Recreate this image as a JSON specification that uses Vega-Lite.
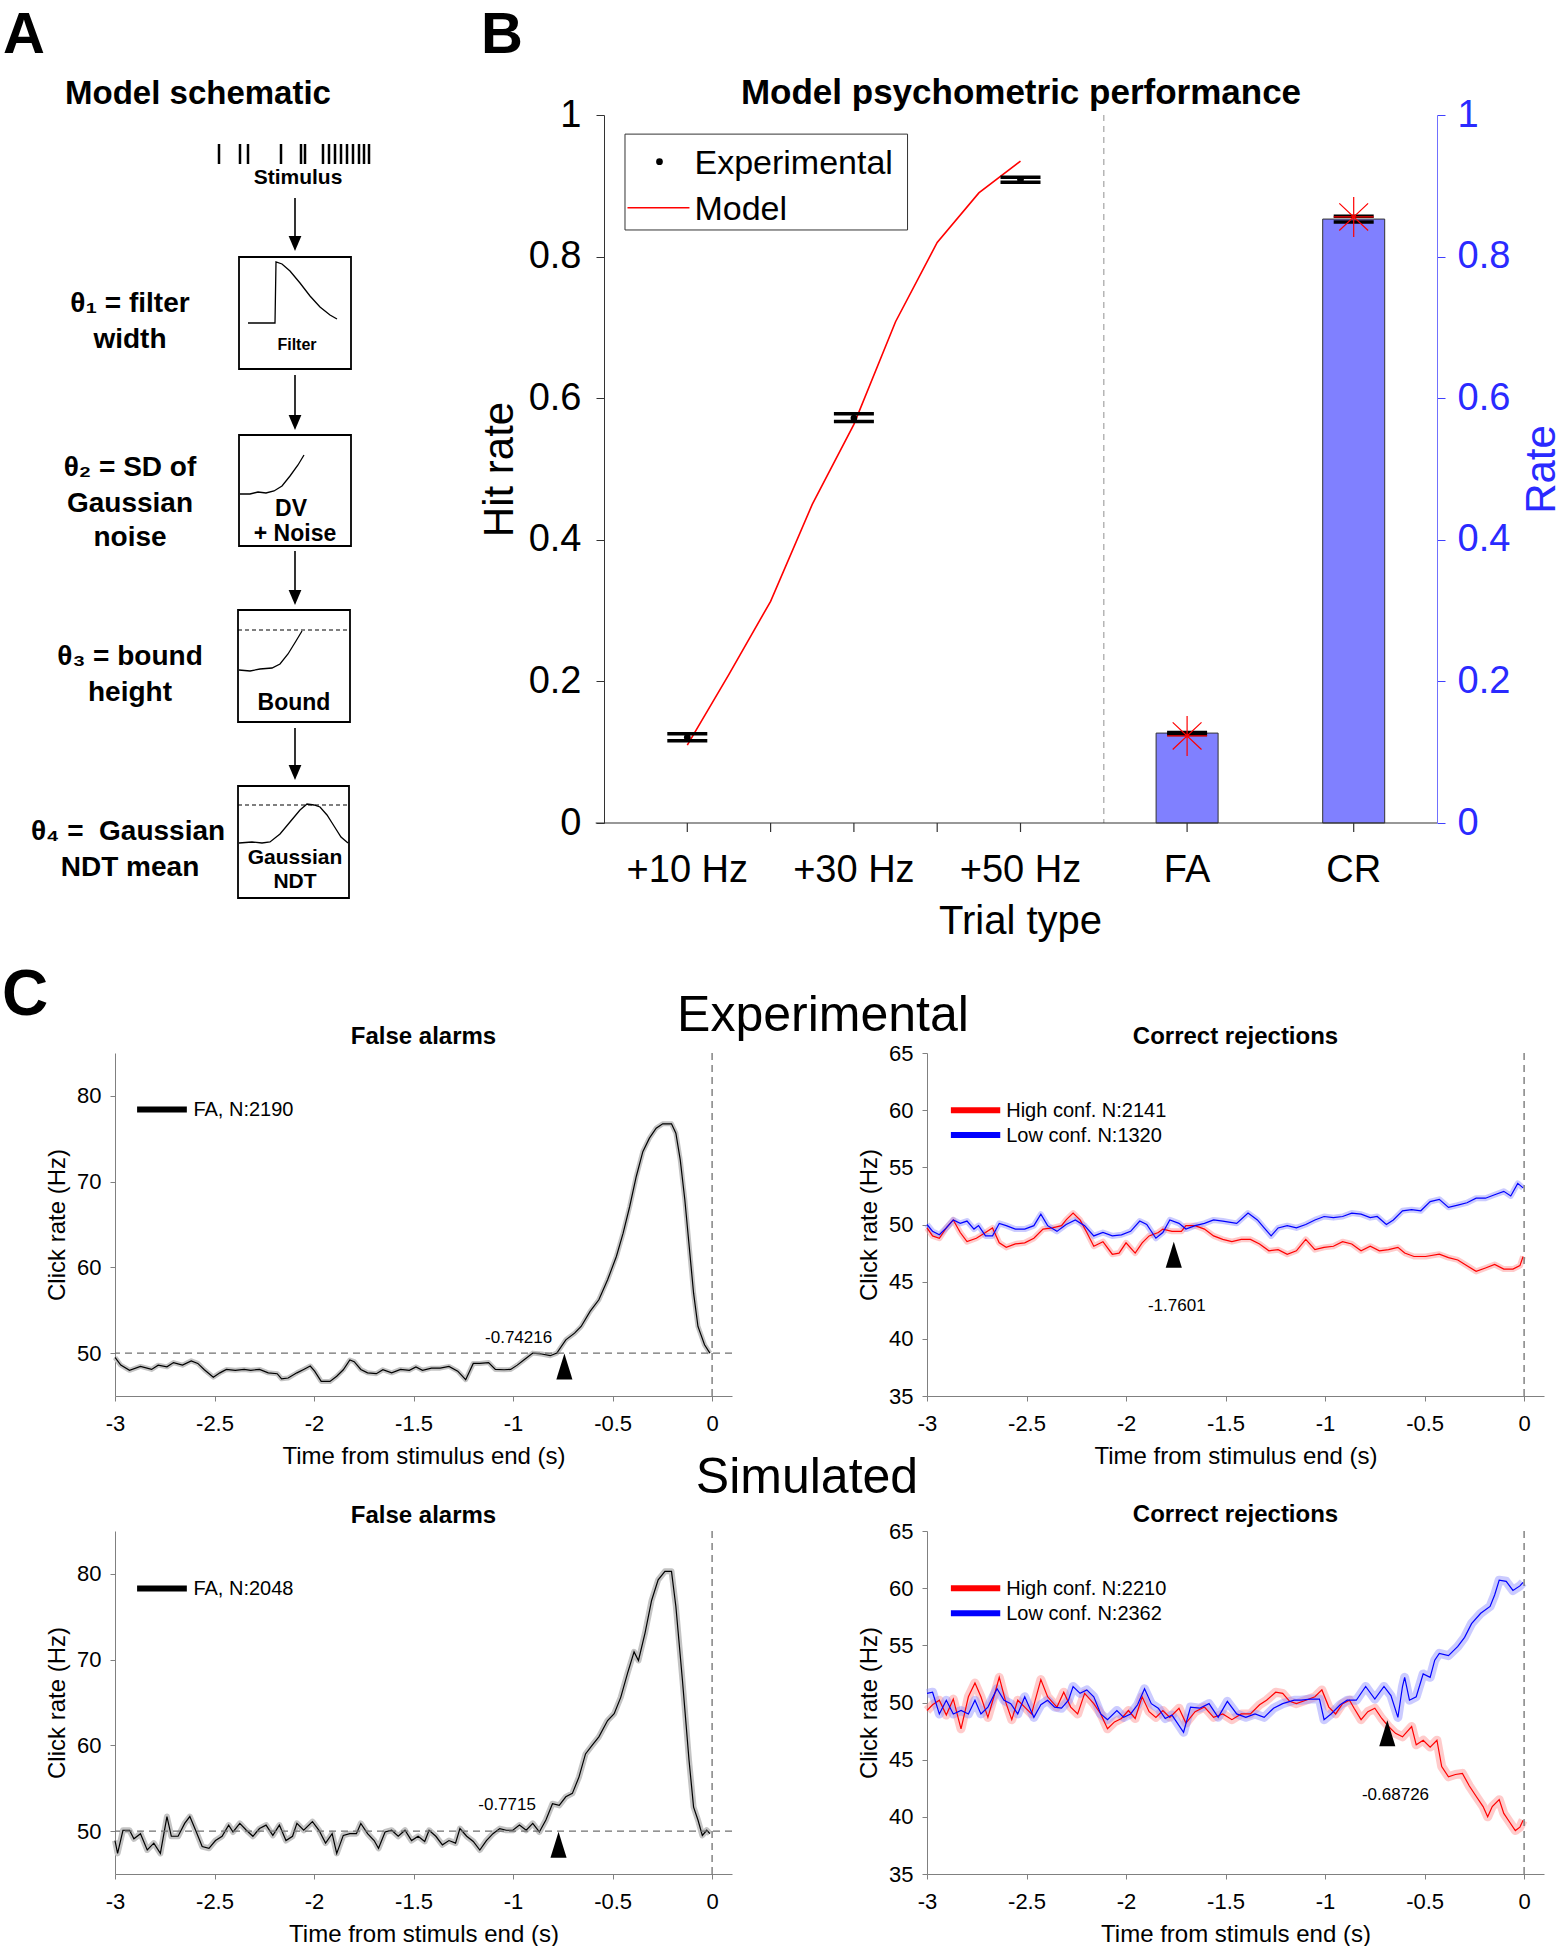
{
"$schema": "https://vega.github.io/schema/vega-lite/v6.json",
"padding": 0,
"background": "white",
"config": {
  "font": "Liberation Sans",
  "view": {"stroke": null},
  "axis": {"grid": false, "labelFont": "Liberation Sans", "titleFont": "Liberation Sans", "titleFontWeight": "normal", "labelColor": "#000", "titleColor": "#000", "labelFlush": false},
  "title": {"font": "Liberation Sans", "fontWeight": "bold", "color": "#000", "anchor": "middle"}
},
"datasets": {
  "a_text": [
    {"x":24,"y":35.5,"t":"A","k":"panel"},
    {"x":502,"y":35.5,"t":"B","k":"panel"},
    {"x":25,"y":996,"t":"C","k":"panelc"},
    {"x":198,"y":94,"t":"Model schematic","k":"title"},
    {"x":1021,"y":93,"t":"Model psychometric performance","k":"title2"},
    {"x":823,"y":1016,"t":"Experimental","k":"big"},
    {"x":807,"y":1478,"t":"Simulated","k":"big"},
    {"x":130,"y":304,"t":"θ₁ = filter","k":"param"},
    {"x":130,"y":340,"t":"width","k":"param"},
    {"x":130,"y":468,"t":"θ₂ = SD of","k":"param"},
    {"x":130,"y":504,"t":"Gaussian","k":"param"},
    {"x":130,"y":538,"t":"noise","k":"param"},
    {"x":130,"y":657,"t":"θ₃ = bound","k":"param"},
    {"x":130,"y":693,"t":"height","k":"param"},
    {"x":128,"y":832,"t":"θ₄ = \u00a0Gaussian","k":"param"},
    {"x":130,"y":868,"t":"NDT mean","k":"param"},
    {"x":298,"y":178,"t":"Stimulus","k":"stim"},
    {"x":297,"y":345,"t":"Filter","k":"filt"},
    {"x":291,"y":509,"t":"DV","k":"box"},
    {"x":295,"y":534,"t":"+ Noise","k":"box"},
    {"x":294,"y":703,"t":"Bound","k":"box"},
    {"x":295,"y":858,"t":"Gaussian","k":"stim"},
    {"x":295,"y":882,"t":"NDT","k":"stim"}
  ],
  "a_rules": [
    {"x":219,"x2":219,"y":144,"y2":164,"k":"stim"},
    {"x":240,"x2":240,"y":144,"y2":164,"k":"stim"},
    {"x":248,"x2":248,"y":144,"y2":164,"k":"stim"},
    {"x":281,"x2":281,"y":144,"y2":164,"k":"stim"},
    {"x":301,"x2":301,"y":144,"y2":164,"k":"stim"},
    {"x":305,"x2":305,"y":144,"y2":164,"k":"stim"},
    {"x":323,"x2":323,"y":144,"y2":164,"k":"stim"},
    {"x":329,"x2":329,"y":144,"y2":164,"k":"stim"},
    {"x":335,"x2":335,"y":144,"y2":164,"k":"stim"},
    {"x":341,"x2":341,"y":144,"y2":164,"k":"stim"},
    {"x":347,"x2":347,"y":144,"y2":164,"k":"stim"},
    {"x":353,"x2":353,"y":144,"y2":164,"k":"stim"},
    {"x":359,"x2":359,"y":144,"y2":164,"k":"stim"},
    {"x":364,"x2":364,"y":144,"y2":164,"k":"stim"},
    {"x":369,"x2":369,"y":144,"y2":164,"k":"stim"},
    {"x":295,"x2":295,"y":198,"y2":240,"k":"shaft"},
    {"x":295,"x2":295,"y":375,"y2":419,"k":"shaft"},
    {"x":295,"x2":295,"y":551,"y2":594,"k":"shaft"},
    {"x":295,"x2":295,"y":728,"y2":769,"k":"shaft"},
    {"x":238,"x2":350,"y":630,"y2":630,"k":"dash"},
    {"x":238,"x2":349,"y":805,"y2":805,"k":"dash"}
  ],
  "a_boxes": [
    {"x":239,"x2":351,"y":257,"y2":369},
    {"x":239,"x2":351,"y":435,"y2":546},
    {"x":238,"x2":350,"y":610,"y2":722},
    {"x":238,"x2":349,"y":786,"y2":898}
  ],
  "a_heads": [{"x":295,"y":243.5},{"x":295,"y":422.5},{"x":295,"y":597.5},{"x":295,"y":772.5}],
  "a_curves": [
    {"g":"filter","x":248,"y":323},{"g":"filter","x":275,"y":323},{"g":"filter","x":276,"y":262},{"g":"filter","x":282,"y":264},{"g":"filter","x":290,"y":271},{"g":"filter","x":300,"y":283},{"g":"filter","x":310,"y":296},{"g":"filter","x":320,"y":307},{"g":"filter","x":330,"y":315},{"g":"filter","x":337,"y":319},
    {"g":"dv","x":240,"y":494},{"g":"dv","x":250,"y":494},{"g":"dv","x":258,"y":492},{"g":"dv","x":266,"y":493},{"g":"dv","x":274,"y":491},{"g":"dv","x":282,"y":486},{"g":"dv","x":290,"y":476},{"g":"dv","x":298,"y":465},{"g":"dv","x":304,"y":455},
    {"g":"bound","x":239,"y":670},{"g":"bound","x":250,"y":671},{"g":"bound","x":260,"y":669},{"g":"bound","x":272,"y":668},{"g":"bound","x":280,"y":664},{"g":"bound","x":288,"y":654},{"g":"bound","x":296,"y":641},{"g":"bound","x":302,"y":631},
    {"g":"ndt","x":239,"y":843},{"g":"ndt","x":252,"y":842},{"g":"ndt","x":262,"y":843},{"g":"ndt","x":270,"y":842},{"g":"ndt","x":280,"y":834},{"g":"ndt","x":290,"y":822},{"g":"ndt","x":300,"y":810},{"g":"ndt","x":307,"y":804},{"g":"ndt","x":314,"y":805},{"g":"ndt","x":320,"y":807},{"g":"ndt","x":327,"y":815},{"g":"ndt","x":334,"y":826},{"g":"ndt","x":341,"y":837},{"g":"ndt","x":348,"y":843}
  ],
  "bmodel": [
    {"pos":1,"hit":0.11},{"pos":1.25,"hit":0.21},{"pos":1.5,"hit":0.313},{"pos":1.75,"hit":0.45},{"pos":2,"hit":0.563},{"pos":2.25,"hit":0.708},{"pos":2.5,"hit":0.82},{"pos":2.75,"hit":0.89},{"pos":3,"hit":0.935}
  ],
  "bexp": [
    {"pos":1,"val":0.121,"lo":0.116,"hi":0.126},
    {"pos":2,"val":0.572,"lo":0.567,"hi":0.578},
    {"pos":3,"val":0.909,"lo":0.905,"hi":0.912},
    {"pos":4,"val":0.127,"lo":0.125,"hi":0.128},
    {"pos":5,"val":0.853,"lo":0.849,"hi":0.857}
  ],
  "bbar": [
    {"pos":4,"rate":0.127,"model":0.123},
    {"pos":5,"rate":0.853,"model":0.856}
  ],
  "bticks": [
    {"pos":1,"lab":"+10 Hz"},{"pos":1.5,"lab":""},{"pos":2,"lab":"+30 Hz"},{"pos":2.5,"lab":""},{"pos":3,"lab":"+50 Hz"},{"pos":4,"lab":"FA"},{"pos":5,"lab":"CR"}
  ],
  "fa_exp": [{"t":-3,"r":49.5},{"t":-2.971,"r":48.6},{"t":-2.927,"r":48.0},{"t":-2.872,"r":48.45},{"t":-2.816,"r":48.1},{"t":-2.783,"r":48.6},{"t":-2.739,"r":48.4},{"t":-2.706,"r":48.9},{"t":-2.661,"r":48.6},{"t":-2.617,"r":49.1},{"t":-2.584,"r":48.8},{"t":-2.551,"r":48.06},{"t":-2.506,"r":47.2},{"t":-2.473,"r":47.7},{"t":-2.44,"r":48.1},{"t":-2.396,"r":48.0},{"t":-2.351,"r":48.1},{"t":-2.318,"r":48.0},{"t":-2.274,"r":48.1},{"t":-2.23,"r":47.7},{"t":-2.185,"r":47.6},{"t":-2.163,"r":47.0},{"t":-2.13,"r":47.1},{"t":-2.086,"r":47.7},{"t":-2.052,"r":48.1},{"t":-2.019,"r":48.5},{"t":-1.997,"r":47.9},{"t":-1.964,"r":46.7},{"t":-1.92,"r":46.7},{"t":-1.886,"r":47.3},{"t":-1.853,"r":48.06},{"t":-1.82,"r":49.2},{"t":-1.798,"r":49.0},{"t":-1.765,"r":48.1},{"t":-1.731,"r":47.7},{"t":-1.687,"r":47.6},{"t":-1.654,"r":48.06},{"t":-1.61,"r":47.7},{"t":-1.565,"r":48.1},{"t":-1.521,"r":48.0},{"t":-1.488,"r":48.4},{"t":-1.455,"r":48.0},{"t":-1.41,"r":48.25},{"t":-1.366,"r":48.25},{"t":-1.322,"r":48.45},{"t":-1.278,"r":47.9},{"t":-1.238,"r":46.9},{"t":-1.2,"r":48.8},{"t":-1.167,"r":48.8},{"t":-1.123,"r":48.9},{"t":-1.089,"r":48.1},{"t":-1.045,"r":48.06},{"t":-1.012,"r":48.1},{"t":-0.979,"r":48.6},{"t":-0.946,"r":49.2},{"t":-0.901,"r":50.0},{"t":-0.857,"r":49.9},{"t":-0.813,"r":49.7},{"t":-0.78,"r":50.0},{"t":-0.735,"r":51.55},{"t":-0.691,"r":52.33},{"t":-0.658,"r":53.11},{"t":-0.613,"r":54.86},{"t":-0.569,"r":56.22},{"t":-0.525,"r":58.55},{"t":-0.481,"r":61.27},{"t":-0.447,"r":63.99},{"t":-0.414,"r":67.1},{"t":-0.381,"r":70.6},{"t":-0.348,"r":73.5},{"t":-0.315,"r":75.07},{"t":-0.281,"r":76.23},{"t":-0.248,"r":76.74},{"t":-0.204,"r":76.74},{"t":-0.182,"r":75.65},{"t":-0.16,"r":72.54},{"t":-0.137,"r":67.88},{"t":-0.115,"r":62.44},{"t":-0.093,"r":56.99},{"t":-0.071,"r":53.11},{"t":-0.038,"r":50.97},{"t":-0.011,"r":50.0}],
  "cr_exp": [
    {"s":"H","t":-3,"r":49.7},{"s":"H","t":-2.972,"r":49.0},{"s":"H","t":-2.938,"r":48.8},{"s":"H","t":-2.903,"r":49.7},{"s":"H","t":-2.868,"r":50.4},{"s":"H","t":-2.833,"r":49.3},{"s":"H","t":-2.799,"r":48.5},{"s":"H","t":-2.752,"r":48.8},{"s":"H","t":-2.706,"r":49.3},{"s":"H","t":-2.671,"r":49.7},{"s":"H","t":-2.637,"r":48.4},{"s":"H","t":-2.602,"r":48.0},{"s":"H","t":-2.556,"r":48.3},{"s":"H","t":-2.509,"r":48.4},{"s":"H","t":-2.463,"r":48.8},{"s":"H","t":-2.417,"r":49.6},{"s":"H","t":-2.37,"r":49.7},{"s":"H","t":-2.324,"r":49.9},{"s":"H","t":-2.301,"r":50.4},{"s":"H","t":-2.266,"r":51.0},{"s":"H","t":-2.231,"r":50.4},{"s":"H","t":-2.197,"r":49.3},{"s":"H","t":-2.162,"r":48.1},{"s":"H","t":-2.116,"r":48.5},{"s":"H","t":-2.069,"r":47.4},{"s":"H","t":-2.035,"r":47.5},{"s":"H","t":-2.0,"r":48.4},{"s":"H","t":-1.954,"r":47.5},{"s":"H","t":-1.919,"r":48.4},{"s":"H","t":-1.884,"r":49.0},{"s":"H","t":-1.838,"r":49.3},{"s":"H","t":-1.815,"r":49.6},{"s":"H","t":-1.769,"r":49.4},{"s":"H","t":-1.722,"r":49.4},{"s":"H","t":-1.699,"r":49.9},{"s":"H","t":-1.653,"r":49.9},{"s":"H","t":-1.606,"r":49.6},{"s":"H","t":-1.56,"r":49.0},{"s":"H","t":-1.514,"r":48.7},{"s":"H","t":-1.468,"r":48.5},{"s":"H","t":-1.421,"r":48.7},{"s":"H","t":-1.375,"r":48.7},{"s":"H","t":-1.329,"r":48.3},{"s":"H","t":-1.282,"r":47.7},{"s":"H","t":-1.236,"r":47.8},{"s":"H","t":-1.19,"r":47.4},{"s":"H","t":-1.144,"r":47.7},{"s":"H","t":-1.097,"r":48.7},{"s":"H","t":-1.051,"r":47.8},{"s":"H","t":-1.005,"r":48.0},{"s":"H","t":-0.958,"r":48.1},{"s":"H","t":-0.912,"r":48.5},{"s":"H","t":-0.866,"r":48.3},{"s":"H","t":-0.819,"r":47.7},{"s":"H","t":-0.773,"r":48.1},{"s":"H","t":-0.727,"r":47.7},{"s":"H","t":-0.681,"r":47.8},{"s":"H","t":-0.634,"r":48.0},{"s":"H","t":-0.6,"r":47.5},{"s":"H","t":-0.553,"r":47.2},{"s":"H","t":-0.495,"r":47.2},{"s":"H","t":-0.426,"r":47.4},{"s":"H","t":-0.38,"r":47.1},{"s":"H","t":-0.333,"r":46.9},{"s":"H","t":-0.287,"r":46.4},{"s":"H","t":-0.241,"r":45.9},{"s":"H","t":-0.194,"r":46.2},{"s":"H","t":-0.148,"r":46.5},{"s":"H","t":-0.102,"r":46.1},{"s":"H","t":-0.056,"r":46.1},{"s":"H","t":-0.021,"r":46.4},{"s":"H","t":-0.005,"r":47.2},
    {"s":"L","t":-3,"r":50.0},{"s":"L","t":-2.972,"r":49.4},{"s":"L","t":-2.938,"r":49.1},{"s":"L","t":-2.903,"r":49.7},{"s":"L","t":-2.868,"r":50.4},{"s":"L","t":-2.833,"r":50.1},{"s":"L","t":-2.799,"r":50.3},{"s":"L","t":-2.764,"r":49.6},{"s":"L","t":-2.741,"r":49.9},{"s":"L","t":-2.706,"r":49.0},{"s":"L","t":-2.671,"r":49.0},{"s":"L","t":-2.637,"r":50.1},{"s":"L","t":-2.602,"r":49.9},{"s":"L","t":-2.556,"r":49.6},{"s":"L","t":-2.509,"r":49.6},{"s":"L","t":-2.463,"r":49.9},{"s":"L","t":-2.428,"r":50.9},{"s":"L","t":-2.394,"r":49.9},{"s":"L","t":-2.347,"r":49.4},{"s":"L","t":-2.301,"r":50.0},{"s":"L","t":-2.255,"r":50.4},{"s":"L","t":-2.208,"r":49.9},{"s":"L","t":-2.162,"r":49.0},{"s":"L","t":-2.116,"r":49.3},{"s":"L","t":-2.069,"r":49.0},{"s":"L","t":-2.023,"r":49.1},{"s":"L","t":-1.977,"r":49.4},{"s":"L","t":-1.931,"r":50.3},{"s":"L","t":-1.896,"r":50.0},{"s":"L","t":-1.85,"r":48.8},{"s":"L","t":-1.815,"r":49.3},{"s":"L","t":-1.78,"r":50.4},{"s":"L","t":-1.734,"r":50.1},{"s":"L","t":-1.699,"r":49.6},{"s":"L","t":-1.653,"r":49.9},{"s":"L","t":-1.606,"r":50.1},{"s":"L","t":-1.56,"r":50.4},{"s":"L","t":-1.514,"r":50.3},{"s":"L","t":-1.444,"r":50.1},{"s":"L","t":-1.387,"r":51.0},{"s":"L","t":-1.34,"r":50.4},{"s":"L","t":-1.306,"r":49.7},{"s":"L","t":-1.271,"r":49.0},{"s":"L","t":-1.236,"r":49.7},{"s":"L","t":-1.19,"r":49.9},{"s":"L","t":-1.144,"r":49.7},{"s":"L","t":-1.097,"r":50.0},{"s":"L","t":-1.051,"r":50.4},{"s":"L","t":-1.005,"r":50.7},{"s":"L","t":-0.958,"r":50.6},{"s":"L","t":-0.912,"r":50.7},{"s":"L","t":-0.866,"r":51.0},{"s":"L","t":-0.819,"r":50.9},{"s":"L","t":-0.773,"r":50.6},{"s":"L","t":-0.738,"r":50.7},{"s":"L","t":-0.692,"r":50.0},{"s":"L","t":-0.657,"r":50.4},{"s":"L","t":-0.611,"r":51.2},{"s":"L","t":-0.565,"r":51.3},{"s":"L","t":-0.519,"r":51.2},{"s":"L","t":-0.472,"r":52.0},{"s":"L","t":-0.426,"r":52.2},{"s":"L","t":-0.38,"r":51.5},{"s":"L","t":-0.333,"r":51.7},{"s":"L","t":-0.287,"r":51.9},{"s":"L","t":-0.241,"r":52.3},{"s":"L","t":-0.194,"r":52.3},{"s":"L","t":-0.148,"r":52.6},{"s":"L","t":-0.102,"r":52.9},{"s":"L","t":-0.067,"r":52.5},{"s":"L","t":-0.032,"r":53.6},{"s":"L","t":-0.005,"r":53.2}
  ],
  "fa_sim": [{"t":-3,"r":48.9},{"t":-2.987,"r":47.4},{"t":-2.96,"r":50.1},{"t":-2.927,"r":50.1},{"t":-2.905,"r":49.1},{"t":-2.872,"r":49.7},{"t":-2.838,"r":47.8},{"t":-2.805,"r":48.6},{"t":-2.772,"r":47.4},{"t":-2.739,"r":51.7},{"t":-2.717,"r":49.4},{"t":-2.683,"r":49.4},{"t":-2.65,"r":50.9},{"t":-2.624,"r":51.7},{"t":-2.595,"r":50.1},{"t":-2.562,"r":48.2},{"t":-2.528,"r":48.0},{"t":-2.495,"r":48.9},{"t":-2.462,"r":49.4},{"t":-2.429,"r":50.7},{"t":-2.407,"r":49.9},{"t":-2.373,"r":50.9},{"t":-2.34,"r":50.1},{"t":-2.307,"r":49.4},{"t":-2.274,"r":50.3},{"t":-2.241,"r":50.7},{"t":-2.207,"r":49.5},{"t":-2.174,"r":50.7},{"t":-2.141,"r":48.9},{"t":-2.108,"r":49.4},{"t":-2.086,"r":50.9},{"t":-2.052,"r":50.1},{"t":-2.008,"r":51.1},{"t":-1.975,"r":50.1},{"t":-1.942,"r":48.6},{"t":-1.909,"r":49.7},{"t":-1.886,"r":47.4},{"t":-1.853,"r":49.5},{"t":-1.82,"r":49.7},{"t":-1.787,"r":49.7},{"t":-1.765,"r":50.9},{"t":-1.731,"r":49.7},{"t":-1.698,"r":48.9},{"t":-1.676,"r":48.0},{"t":-1.643,"r":49.9},{"t":-1.61,"r":50.1},{"t":-1.577,"r":49.4},{"t":-1.543,"r":50.1},{"t":-1.51,"r":48.9},{"t":-1.477,"r":49.4},{"t":-1.444,"r":48.8},{"t":-1.422,"r":50.1},{"t":-1.388,"r":49.4},{"t":-1.355,"r":48.4},{"t":-1.322,"r":48.9},{"t":-1.289,"r":48.6},{"t":-1.267,"r":50.3},{"t":-1.233,"r":49.4},{"t":-1.2,"r":48.8},{"t":-1.167,"r":47.8},{"t":-1.134,"r":48.9},{"t":-1.101,"r":49.7},{"t":-1.067,"r":50.3},{"t":-1.034,"r":50.1},{"t":-1.001,"r":50.1},{"t":-0.968,"r":50.7},{"t":-0.934,"r":50.1},{"t":-0.901,"r":50.9},{"t":-0.868,"r":49.9},{"t":-0.835,"r":51.3},{"t":-0.802,"r":53.2},{"t":-0.768,"r":53.0},{"t":-0.735,"r":54.0},{"t":-0.702,"r":54.4},{"t":-0.669,"r":56.3},{"t":-0.636,"r":59.0},{"t":-0.603,"r":60.0},{"t":-0.569,"r":61.0},{"t":-0.525,"r":62.9},{"t":-0.492,"r":63.7},{"t":-0.459,"r":65.6},{"t":-0.425,"r":68.4},{"t":-0.392,"r":70.9},{"t":-0.37,"r":69.9},{"t":-0.337,"r":73.1},{"t":-0.304,"r":76.9},{"t":-0.271,"r":79.3},{"t":-0.237,"r":80.3},{"t":-0.204,"r":80.3},{"t":-0.182,"r":76.2},{"t":-0.149,"r":67.6},{"t":-0.116,"r":58.3},{"t":-0.093,"r":52.8},{"t":-0.071,"r":51.3},{"t":-0.049,"r":49.5},{"t":-0.027,"r":50.1},{"t":-0.011,"r":49.7}],
  "cr_sim": [
    {"s":"H","t":-3,"r":49.3},{"s":"H","t":-2.972,"r":49.8},{"s":"H","t":-2.938,"r":50.2},{"s":"H","t":-2.903,"r":48.9},{"s":"H","t":-2.868,"r":50.3},{"s":"H","t":-2.829,"r":47.7},{"s":"H","t":-2.792,"r":50.5},{"s":"H","t":-2.759,"r":51.7},{"s":"H","t":-2.729,"r":50.5},{"s":"H","t":-2.694,"r":48.7},{"s":"H","t":-2.664,"r":50.5},{"s":"H","t":-2.637,"r":52.2},{"s":"H","t":-2.602,"r":49.9},{"s":"H","t":-2.574,"r":48.5},{"s":"H","t":-2.544,"r":50.2},{"s":"H","t":-2.509,"r":49.6},{"s":"H","t":-2.475,"r":49.0},{"s":"H","t":-2.428,"r":52.0},{"s":"H","t":-2.394,"r":50.5},{"s":"H","t":-2.347,"r":49.6},{"s":"H","t":-2.313,"r":50.9},{"s":"H","t":-2.278,"r":49.6},{"s":"H","t":-2.243,"r":49.0},{"s":"H","t":-2.208,"r":50.8},{"s":"H","t":-2.162,"r":49.9},{"s":"H","t":-2.127,"r":49.0},{"s":"H","t":-2.093,"r":47.7},{"s":"H","t":-2.058,"r":48.3},{"s":"H","t":-2.023,"r":48.6},{"s":"H","t":-1.988,"r":49.3},{"s":"H","t":-1.954,"r":48.6},{"s":"H","t":-1.919,"r":50.5},{"s":"H","t":-1.884,"r":49.2},{"s":"H","t":-1.85,"r":48.7},{"s":"H","t":-1.815,"r":49.3},{"s":"H","t":-1.78,"r":48.7},{"s":"H","t":-1.734,"r":49.5},{"s":"H","t":-1.699,"r":48.2},{"s":"H","t":-1.653,"r":49.2},{"s":"H","t":-1.606,"r":49.6},{"s":"H","t":-1.56,"r":48.7},{"s":"H","t":-1.514,"r":49.0},{"s":"H","t":-1.468,"r":48.5},{"s":"H","t":-1.421,"r":49.0},{"s":"H","t":-1.375,"r":49.0},{"s":"H","t":-1.329,"r":49.8},{"s":"H","t":-1.294,"r":50.2},{"s":"H","t":-1.248,"r":50.9},{"s":"H","t":-1.213,"r":50.8},{"s":"H","t":-1.178,"r":50.1},{"s":"H","t":-1.144,"r":49.9},{"s":"H","t":-1.097,"r":50.2},{"s":"H","t":-1.051,"r":50.5},{"s":"H","t":-1.016,"r":51.1},{"s":"H","t":-0.981,"r":49.6},{"s":"H","t":-0.947,"r":49.0},{"s":"H","t":-0.912,"r":49.9},{"s":"H","t":-0.877,"r":50.2},{"s":"H","t":-0.854,"r":49.5},{"s":"H","t":-0.819,"r":48.5},{"s":"H","t":-0.785,"r":49.2},{"s":"H","t":-0.75,"r":49.5},{"s":"H","t":-0.715,"r":48.6},{"s":"H","t":-0.681,"r":47.9},{"s":"H","t":-0.646,"r":47.3},{"s":"H","t":-0.611,"r":47.0},{"s":"H","t":-0.565,"r":47.9},{"s":"H","t":-0.542,"r":46.3},{"s":"H","t":-0.507,"r":46.7},{"s":"H","t":-0.472,"r":46.1},{"s":"H","t":-0.438,"r":46.7},{"s":"H","t":-0.414,"r":44.4},{"s":"H","t":-0.38,"r":43.5},{"s":"H","t":-0.345,"r":43.7},{"s":"H","t":-0.31,"r":43.8},{"s":"H","t":-0.275,"r":42.7},{"s":"H","t":-0.241,"r":41.8},{"s":"H","t":-0.206,"r":40.9},{"s":"H","t":-0.183,"r":40.0},{"s":"H","t":-0.16,"r":40.9},{"s":"H","t":-0.125,"r":41.5},{"s":"H","t":-0.102,"r":40.3},{"s":"H","t":-0.079,"r":39.7},{"s":"H","t":-0.044,"r":38.8},{"s":"H","t":-0.021,"r":39.1},{"s":"H","t":-0.005,"r":39.7},
    {"s":"L","t":-3,"r":50.8},{"s":"L","t":-2.972,"r":50.9},{"s":"L","t":-2.938,"r":49.0},{"s":"L","t":-2.903,"r":50.2},{"s":"L","t":-2.868,"r":49.0},{"s":"L","t":-2.829,"r":49.3},{"s":"L","t":-2.792,"r":49.0},{"s":"L","t":-2.759,"r":50.2},{"s":"L","t":-2.729,"r":49.0},{"s":"L","t":-2.694,"r":49.6},{"s":"L","t":-2.648,"r":51.2},{"s":"L","t":-2.613,"r":50.2},{"s":"L","t":-2.579,"r":49.9},{"s":"L","t":-2.544,"r":49.0},{"s":"L","t":-2.509,"r":50.5},{"s":"L","t":-2.463,"r":48.7},{"s":"L","t":-2.428,"r":49.8},{"s":"L","t":-2.394,"r":50.2},{"s":"L","t":-2.359,"r":49.6},{"s":"L","t":-2.324,"r":49.5},{"s":"L","t":-2.289,"r":50.2},{"s":"L","t":-2.266,"r":51.4},{"s":"L","t":-2.231,"r":50.8},{"s":"L","t":-2.197,"r":51.1},{"s":"L","t":-2.162,"r":50.5},{"s":"L","t":-2.127,"r":49.0},{"s":"L","t":-2.093,"r":48.5},{"s":"L","t":-2.046,"r":49.3},{"s":"L","t":-2.012,"r":48.7},{"s":"L","t":-1.977,"r":49.0},{"s":"L","t":-1.942,"r":49.8},{"s":"L","t":-1.907,"r":51.2},{"s":"L","t":-1.873,"r":49.9},{"s":"L","t":-1.838,"r":49.5},{"s":"L","t":-1.803,"r":48.6},{"s":"L","t":-1.769,"r":48.9},{"s":"L","t":-1.711,"r":47.4},{"s":"L","t":-1.676,"r":49.6},{"s":"L","t":-1.63,"r":49.5},{"s":"L","t":-1.583,"r":49.9},{"s":"L","t":-1.537,"r":48.7},{"s":"L","t":-1.491,"r":50.1},{"s":"L","t":-1.444,"r":49.0},{"s":"L","t":-1.398,"r":48.7},{"s":"L","t":-1.352,"r":49.0},{"s":"L","t":-1.306,"r":48.7},{"s":"L","t":-1.259,"r":49.5},{"s":"L","t":-1.213,"r":49.9},{"s":"L","t":-1.155,"r":50.2},{"s":"L","t":-1.12,"r":50.2},{"s":"L","t":-1.074,"r":50.3},{"s":"L","t":-1.028,"r":50.3},{"s":"L","t":-1.005,"r":48.5},{"s":"L","t":-0.97,"r":49.0},{"s":"L","t":-0.924,"r":49.8},{"s":"L","t":-0.889,"r":50.2},{"s":"L","t":-0.843,"r":50.2},{"s":"L","t":-0.796,"r":51.4},{"s":"L","t":-0.75,"r":50.3},{"s":"L","t":-0.704,"r":51.4},{"s":"L","t":-0.669,"r":50.6},{"s":"L","t":-0.634,"r":48.7},{"s":"L","t":-0.611,"r":51.4},{"s":"L","t":-0.6,"r":52.2},{"s":"L","t":-0.576,"r":50.2},{"s":"L","t":-0.542,"r":50.5},{"s":"L","t":-0.507,"r":52.5},{"s":"L","t":-0.472,"r":52.2},{"s":"L","t":-0.449,"r":53.7},{"s":"L","t":-0.426,"r":54.3},{"s":"L","t":-0.38,"r":54.1},{"s":"L","t":-0.333,"r":54.9},{"s":"L","t":-0.299,"r":55.7},{"s":"L","t":-0.264,"r":56.9},{"s":"L","t":-0.218,"r":57.8},{"s":"L","t":-0.171,"r":58.4},{"s":"L","t":-0.148,"r":59.4},{"s":"L","t":-0.125,"r":60.7},{"s":"L","t":-0.09,"r":60.6},{"s":"L","t":-0.056,"r":59.8},{"s":"L","t":-0.021,"r":60.2},{"s":"L","t":-0.005,"r":60.5}
  ]
},
"columns": 2,
"bounds": "flush",
"align": "each",
"spacing": {"row": 135, "column": 195},
"concat": [
  {
    "width": 294, "height": 803,
    "encoding": {
      "x": {"field": "x", "type": "quantitative", "scale": {"domain": [115, 409], "nice": false, "zero": false}, "axis": null},
      "y": {"field": "y", "type": "quantitative", "scale": {"domain": [115, 918], "nice": false, "zero": false, "reverse": true}, "axis": null}
    },
    "layer": [
      {"data": {"values": [{"x": 0, "y": 0, "x2": 1, "y2": 1}]}, "mark": {"type": "rect", "fillOpacity": 0, "fill": "white"}, "encoding": {"x2": {"field": "x2"}, "y2": {"field": "y2"}}},
      {"data": {"name": "a_boxes"}, "mark": {"type": "rect", "fill": "white", "stroke": "#000", "strokeWidth": 1.8}, "encoding": {"x2": {"field": "x2"}, "y2": {"field": "y2"}}},
      {"data": {"name": "a_rules"}, "transform": [{"filter": "datum.k == 'stim'"}], "mark": {"type": "rule", "color": "#000", "strokeWidth": 2.5}, "encoding": {"x2": {"field": "x2"}, "y2": {"field": "y2"}}},
      {"data": {"name": "a_rules"}, "transform": [{"filter": "datum.k == 'shaft'"}], "mark": {"type": "rule", "color": "#000", "strokeWidth": 1.6}, "encoding": {"x2": {"field": "x2"}, "y2": {"field": "y2"}}},
      {"data": {"name": "a_rules"}, "transform": [{"filter": "datum.k == 'dash'"}], "mark": {"type": "rule", "color": "#000", "strokeWidth": 1.2, "strokeDash": [4, 3]}, "encoding": {"x2": {"field": "x2"}, "y2": {"field": "y2"}}},
      {"data": {"name": "a_heads"}, "mark": {"type": "point", "shape": "M-0.85,-1L0.85,-1L0,1Z", "filled": true, "color": "#000", "size": 225, "opacity": 1}},
      {"data": {"name": "a_curves"}, "mark": {"type": "line", "color": "#000", "strokeWidth": 1.3}, "encoding": {"detail": {"field": "g"}, "order": {"value": null}}},
      {"data": {"name": "a_text"}, "transform": [{"filter": "datum.k == 'panel'"}], "mark": {"type": "text", "fontSize": 58, "fontWeight": "bold", "align": "center", "baseline": "middle"}, "encoding": {"text": {"field": "t"}}},
      {"data": {"name": "a_text"}, "transform": [{"filter": "datum.k == 'panelc'"}], "mark": {"type": "text", "fontSize": 64, "fontWeight": "bold", "align": "center", "baseline": "middle"}, "encoding": {"text": {"field": "t"}}},
      {"data": {"name": "a_text"}, "transform": [{"filter": "datum.k == 'title'"}], "mark": {"type": "text", "fontSize": 33, "fontWeight": "bold", "align": "center", "baseline": "middle"}, "encoding": {"text": {"field": "t"}}},
      {"data": {"name": "a_text"}, "transform": [{"filter": "datum.k == 'title2'"}], "mark": {"type": "text", "fontSize": 35, "fontWeight": "bold", "align": "center", "baseline": "middle"}, "encoding": {"text": {"field": "t"}}},
      {"data": {"name": "a_text"}, "transform": [{"filter": "datum.k == 'big'"}], "mark": {"type": "text", "fontSize": 50, "align": "center", "baseline": "middle"}, "encoding": {"text": {"field": "t"}}},
      {"data": {"name": "a_text"}, "transform": [{"filter": "datum.k == 'param'"}], "mark": {"type": "text", "fontSize": 28, "fontWeight": "bold", "align": "center", "baseline": "middle"}, "encoding": {"text": {"field": "t"}}},
      {"data": {"name": "a_text"}, "transform": [{"filter": "datum.k == 'stim'"}], "mark": {"type": "text", "fontSize": 21, "fontWeight": "bold", "align": "center", "baseline": "middle"}, "encoding": {"text": {"field": "t"}}},
      {"data": {"name": "a_text"}, "transform": [{"filter": "datum.k == 'box'"}], "mark": {"type": "text", "fontSize": 23, "fontWeight": "bold", "align": "center", "baseline": "middle"}, "encoding": {"text": {"field": "t"}}},
      {"data": {"name": "a_text"}, "transform": [{"filter": "datum.k == 'filt'"}], "mark": {"type": "text", "fontSize": 16, "fontWeight": "bold", "align": "center", "baseline": "middle"}, "encoding": {"text": {"field": "t"}}}
    ]
  },
  {
    "width": 510, "height": 708,
    "resolve": {"scale": {"y": "independent"}},
    "layer": [
      {"data": {"name": "bmodel"}, "mark": {"type": "line", "color": "#ff0000", "strokeWidth": 1.6},
       "encoding": {
         "x": {"field": "pos", "type": "quantitative", "scale": {"domain": [2.438776, 5.5], "nice": false, "zero": false, "padding": 0}, "axis": null},
         "y": {"field": "hit", "type": "quantitative", "scale": {"domain": [0, 1], "nice": false},
               "axis": {"title": "Hit rate", "offset": 323, "values": [0, 0.2, 0.4, 0.6, 0.8, 1], "labelExpr": "''+datum.value", "labelFontSize": 38, "titleFontSize": 42, "tickSize": 8, "labelPadding": 15, "titlePadding": 7, "domainColor": "#333", "tickColor": "#333"}}
       }},
      {"data": {"values": [{}]}, "mark": {"type": "rule", "color": "#aaaaaa", "strokeDash": [6, 5], "strokeWidth": 1.3},
       "encoding": {"x": {"datum": 3.5, "type": "quantitative", "scale": {"domain": [2.438776, 5.5], "nice": false, "zero": false, "padding": 0}}}},
      {"data": {"name": "bbar"}, "mark": {"type": "bar", "orient": "vertical", "width": 62, "color": "#8080ff", "stroke": "#333", "strokeWidth": 1},
       "encoding": {
         "x": {"field": "pos", "type": "quantitative", "scale": {"domain": [2.438776, 5.5], "nice": false, "zero": false, "padding": 0}},
         "y": {"field": "rate", "type": "quantitative", "scale": {"domain": [0, 1], "nice": false},
               "axis": {"orient": "right", "title": "Rate", "values": [0, 0.2, 0.4, 0.6, 0.8, 1], "labelExpr": "''+datum.value", "labelFontSize": 38, "titleFontSize": 42, "tickSize": 8, "labelPadding": 12, "titlePadding": 12, "titleAngle": 270, "titleBaseline": "top", "domainColor": "#7070ff", "tickColor": "#4040ff", "labelColor": "#2a2aff", "titleColor": "#2a2aff"}}
       }},
      {"data": {"values": [{}]}, "mark": {"type": "rule", "color": "#333", "strokeWidth": 1.2},
       "encoding": {"x": {"datum": 0.45, "type": "quantitative", "scale": {"domain": [2.438776, 5.5], "nice": false, "zero": false, "padding": 0}}, "x2": {"datum": 5.5},
                    "y": {"datum": 0, "type": "quantitative", "scale": {"domain": [0, 1], "nice": false}, "axis": null}}},
      {"data": {"name": "bticks"}, "mark": {"type": "rule", "color": "#333", "strokeWidth": 1.2},
       "encoding": {"x": {"field": "pos", "type": "quantitative", "scale": {"domain": [2.438776, 5.5], "nice": false, "zero": false, "padding": 0}},
                    "y": {"datum": 0, "type": "quantitative", "scale": {"domain": [0, 1], "nice": false}, "axis": null}, "y2": {"datum": -0.0127}}},
      {"data": {"name": "bticks"}, "transform": [{"filter": "datum.lab != ''"}], "mark": {"type": "text", "fontSize": 38, "align": "center", "baseline": "middle"},
       "encoding": {"x": {"field": "pos", "type": "quantitative", "scale": {"domain": [2.438776, 5.5], "nice": false, "zero": false, "padding": 0}},
                    "y": {"datum": -0.068, "type": "quantitative", "scale": {"domain": [0, 1], "nice": false}, "axis": null}, "text": {"field": "lab"}}},
      {"data": {"values": [{}]}, "mark": {"type": "text", "fontSize": 40, "align": "center", "baseline": "middle"},
       "encoding": {"x": {"datum": 3, "type": "quantitative", "scale": {"domain": [2.438776, 5.5], "nice": false, "zero": false, "padding": 0}},
                    "y": {"datum": -0.14, "type": "quantitative", "scale": {"domain": [0, 1], "nice": false}, "axis": null}, "text": {"value": "Trial type"}}},
      {"data": {"name": "bexp"}, "mark": {"type": "tick", "orient": "horizontal", "size": 40, "thickness": 3.5, "color": "#000", "opacity": 1},
       "encoding": {"x": {"field": "pos", "type": "quantitative", "scale": {"domain": [2.438776, 5.5], "nice": false, "zero": false, "padding": 0}},
                    "y": {"field": "lo", "type": "quantitative", "scale": {"domain": [0, 1], "nice": false}, "axis": null}}},
      {"data": {"name": "bexp"}, "mark": {"type": "tick", "orient": "horizontal", "size": 40, "thickness": 3.5, "color": "#000", "opacity": 1},
       "encoding": {"x": {"field": "pos", "type": "quantitative", "scale": {"domain": [2.438776, 5.5], "nice": false, "zero": false, "padding": 0}},
                    "y": {"field": "hi", "type": "quantitative", "scale": {"domain": [0, 1], "nice": false}, "axis": null}}},
      {"data": {"name": "bexp"}, "transform": [{"filter": "datum.pos <= 3"}], "mark": {"type": "point", "filled": true, "color": "#000", "size": 45, "opacity": 1},
       "encoding": {"x": {"field": "pos", "type": "quantitative", "scale": {"domain": [2.438776, 5.5], "nice": false, "zero": false, "padding": 0}},
                    "y": {"field": "val", "type": "quantitative", "scale": {"domain": [0, 1], "nice": false}, "axis": null}}},
      {"data": {"name": "bbar"}, "mark": {"type": "point", "shape": "M0,-1L0,1M-0.72,-0.68L0.72,0.68M-0.72,0.68L0.72,-0.68M-1,0L1,0", "filled": false, "color": "#ff0000", "strokeWidth": 1.2, "size": 1600, "opacity": 1},
       "encoding": {"x": {"field": "pos", "type": "quantitative", "scale": {"domain": [2.438776, 5.5], "nice": false, "zero": false, "padding": 0}},
                    "y": {"field": "model", "type": "quantitative", "scale": {"domain": [0, 1], "nice": false}, "axis": null}}},
      {"data": {"values": [{}]}, "mark": {"type": "rect", "fill": "white", "stroke": "#333", "strokeWidth": 1},
       "encoding": {"x": {"datum": 0.626, "type": "quantitative", "scale": {"domain": [2.438776, 5.5], "nice": false, "zero": false, "padding": 0}}, "x2": {"datum": 2.322},
                    "y": {"datum": 0.973, "type": "quantitative", "scale": {"domain": [0, 1], "nice": false}, "axis": null}, "y2": {"datum": 0.8376}}},
      {"data": {"values": [{}]}, "mark": {"type": "point", "filled": true, "color": "#000", "size": 45, "opacity": 1},
       "encoding": {"x": {"datum": 0.833, "type": "quantitative", "scale": {"domain": [2.438776, 5.5], "nice": false, "zero": false, "padding": 0}},
                    "y": {"datum": 0.934, "type": "quantitative", "scale": {"domain": [0, 1], "nice": false}, "axis": null}}},
      {"data": {"values": [{}]}, "mark": {"type": "rule", "color": "#ff0000", "strokeWidth": 1.6},
       "encoding": {"x": {"datum": 0.641, "type": "quantitative", "scale": {"domain": [2.438776, 5.5], "nice": false, "zero": false, "padding": 0}}, "x2": {"datum": 1.013},
                    "y": {"datum": 0.869, "type": "quantitative", "scale": {"domain": [0, 1], "nice": false}, "axis": null}}},
      {"data": {"values": [{}]}, "mark": {"type": "text", "align": "left", "baseline": "middle", "fontSize": 34},
       "encoding": {"x": {"datum": 1.043, "type": "quantitative", "scale": {"domain": [2.438776, 5.5], "nice": false, "zero": false, "padding": 0}},
                    "y": {"datum": 0.931, "type": "quantitative", "scale": {"domain": [0, 1], "nice": false}, "axis": null},
                    "text": {"value": "Experimental"}}},
      {"data": {"values": [{}]}, "mark": {"type": "text", "align": "left", "baseline": "middle", "fontSize": 34},
       "encoding": {"x": {"datum": 1.043, "type": "quantitative", "scale": {"domain": [2.438776, 5.5], "nice": false, "zero": false, "padding": 0}},
                    "y": {"datum": 0.866, "type": "quantitative", "scale": {"domain": [0, 1], "nice": false}, "axis": null},
                    "text": {"value": "Model"}}}
    ]
  },
  {
    "width": 617, "height": 343,
    "title": {"text": "False alarms", "fontSize": 24, "offset": 3},
    "layer": [
      {"data": {"name": "fa_exp"}, "mark": {"type": "line", "color": "#c4c4c4", "strokeWidth": 5, "strokeJoin": "round"},
       "encoding": {"x": {"field": "t", "type": "quantitative", "scale": {"domain": [-3, 0.1], "nice": false, "zero": false},
                          "axis": {"title": "Time from stimulus end (s)", "values": [-3, -2.5, -2, -1.5, -1, -0.5, 0], "labelExpr": "''+datum.value", "labelFontSize": 22, "titleFontSize": 24, "tickSize": 5, "labelPadding": 12, "titlePadding": 10, "domainColor": "#808080", "tickColor": "#808080"}},
                    "y": {"field": "r", "type": "quantitative", "scale": {"domain": [45, 85], "nice": false, "zero": false},
                          "axis": {"title": "Click rate (Hz)", "values": [50, 60, 70, 80], "labelExpr": "''+datum.value", "labelFontSize": 22, "titleFontSize": 24, "tickSize": 5, "labelPadding": 9, "titlePadding": 7, "domainColor": "#808080", "tickColor": "#808080"}}}},
      {"data": {"name": "fa_exp"}, "mark": {"type": "line", "color": "#000", "strokeWidth": 1.2},
       "encoding": {"x": {"field": "t", "type": "quantitative"}, "y": {"field": "r", "type": "quantitative"}}},
      {"data": {"values": [{}]}, "mark": {"type": "rule", "color": "#707070", "strokeDash": [7, 5], "strokeWidth": 1.3}, "encoding": {"y": {"datum": 50}}},
      {"data": {"values": [{}]}, "mark": {"type": "rule", "color": "#707070", "strokeDash": [7, 5], "strokeWidth": 1.3}, "encoding": {"x": {"datum": 0}}},
      {"data": {"values": [{}]}, "mark": {"type": "rule", "color": "#000", "strokeWidth": 6}, "encoding": {"x": {"datum": -2.889}, "x2": {"datum": -2.639}, "y": {"datum": 78.4}}},
      {"data": {"values": [{}]}, "mark": {"type": "text", "align": "left", "baseline": "middle", "fontSize": 20}, "encoding": {"x": {"datum": -2.606}, "y": {"datum": 78.3}, "text": {"value": "FA, N:2190"}}},
      {"data": {"values": [{}]}, "mark": {"type": "point", "shape": "M0,-1L0.62,1L-0.62,1Z", "filled": true, "color": "#000", "size": 676, "opacity": 1}, "encoding": {"x": {"datum": -0.74216}, "y": {"datum": 48.45}}},
      {"data": {"values": [{}]}, "mark": {"type": "text", "align": "center", "baseline": "middle", "fontSize": 17}, "encoding": {"x": {"datum": -0.972}, "y": {"datum": 51.75}, "text": {"value": "-0.74216"}}}
    ]
  },
  {
    "width": 617, "height": 343,
    "title": {"text": "Correct rejections", "fontSize": 24, "offset": -7},
    "layer": [
      {"data": {"name": "cr_exp"}, "transform": [{"filter": "datum.s == 'H'"}], "mark": {"type": "line", "color": "#ff8c8c", "opacity": 0.45, "strokeWidth": 6, "strokeJoin": "round"},
       "encoding": {"x": {"field": "t", "type": "quantitative", "scale": {"domain": [-3, 0.1], "nice": false, "zero": false},
                          "axis": {"title": "Time from stimulus end (s)", "values": [-3, -2.5, -2, -1.5, -1, -0.5, 0], "labelExpr": "''+datum.value", "labelFontSize": 22, "titleFontSize": 24, "tickSize": 5, "labelPadding": 12, "titlePadding": 10, "domainColor": "#808080", "tickColor": "#808080"}},
                    "y": {"field": "r", "type": "quantitative", "scale": {"domain": [35, 65], "nice": false, "zero": false},
                          "axis": {"title": "Click rate (Hz)", "values": [35, 40, 45, 50, 55, 60, 65], "labelExpr": "''+datum.value", "labelFontSize": 22, "titleFontSize": 24, "tickSize": 5, "labelPadding": 9, "titlePadding": 7, "domainColor": "#808080", "tickColor": "#808080"}}}},
      {"data": {"name": "cr_exp"}, "transform": [{"filter": "datum.s == 'L'"}], "mark": {"type": "line", "color": "#8c8cff", "opacity": 0.45, "strokeWidth": 6, "strokeJoin": "round"},
       "encoding": {"x": {"field": "t", "type": "quantitative"}, "y": {"field": "r", "type": "quantitative"}}},
      {"data": {"name": "cr_exp"}, "transform": [{"filter": "datum.s == 'H'"}], "mark": {"type": "line", "color": "#ff0000", "strokeWidth": 1.2},
       "encoding": {"x": {"field": "t", "type": "quantitative"}, "y": {"field": "r", "type": "quantitative"}}},
      {"data": {"name": "cr_exp"}, "transform": [{"filter": "datum.s == 'L'"}], "mark": {"type": "line", "color": "#0000ff", "strokeWidth": 1.2},
       "encoding": {"x": {"field": "t", "type": "quantitative"}, "y": {"field": "r", "type": "quantitative"}}},
      {"data": {"values": [{}]}, "mark": {"type": "rule", "color": "#707070", "strokeDash": [7, 5], "strokeWidth": 1.3}, "encoding": {"x": {"datum": 0}}},
      {"data": {"values": [{}]}, "mark": {"type": "rule", "color": "#ff0000", "strokeWidth": 6}, "encoding": {"x": {"datum": -2.88}, "x2": {"datum": -2.632}, "y": {"datum": 60.0}}},
      {"data": {"values": [{}]}, "mark": {"type": "rule", "color": "#0000ff", "strokeWidth": 6}, "encoding": {"x": {"datum": -2.88}, "x2": {"datum": -2.632}, "y": {"datum": 57.82}}},
      {"data": {"values": [{}]}, "mark": {"type": "text", "align": "left", "baseline": "middle", "fontSize": 20}, "encoding": {"x": {"datum": -2.602}, "y": {"datum": 59.9}, "text": {"value": "High conf. N:2141"}}},
      {"data": {"values": [{}]}, "mark": {"type": "text", "align": "left", "baseline": "middle", "fontSize": 20}, "encoding": {"x": {"datum": -2.602}, "y": {"datum": 57.72}, "text": {"value": "Low conf. N:1320"}}},
      {"data": {"values": [{}]}, "mark": {"type": "point", "shape": "M0,-1L0.62,1L-0.62,1Z", "filled": true, "color": "#000", "size": 676, "opacity": 1}, "encoding": {"x": {"datum": -1.7601}, "y": {"datum": 47.35}}},
      {"data": {"values": [{}]}, "mark": {"type": "text", "align": "center", "baseline": "middle", "fontSize": 17}, "encoding": {"x": {"datum": -1.745}, "y": {"datum": 42.9}, "text": {"value": "-1.7601"}}}
    ]
  },
  {
    "width": 617, "height": 343,
    "title": {"text": "False alarms", "fontSize": 24, "offset": 2},
    "layer": [
      {"data": {"name": "fa_sim"}, "mark": {"type": "line", "color": "#c4c4c4", "strokeWidth": 6, "strokeJoin": "round"},
       "encoding": {"x": {"field": "t", "type": "quantitative", "scale": {"domain": [-3, 0.1], "nice": false, "zero": false},
                          "axis": {"title": "Time from stimuls end (s)", "values": [-3, -2.5, -2, -1.5, -1, -0.5, 0], "labelExpr": "''+datum.value", "labelFontSize": 22, "titleFontSize": 24, "tickSize": 5, "labelPadding": 12, "titlePadding": 10, "domainColor": "#808080", "tickColor": "#808080"}},
                    "y": {"field": "r", "type": "quantitative", "scale": {"domain": [45, 85], "nice": false, "zero": false},
                          "axis": {"title": "Click rate (Hz)", "values": [50, 60, 70, 80], "labelExpr": "''+datum.value", "labelFontSize": 22, "titleFontSize": 24, "tickSize": 5, "labelPadding": 9, "titlePadding": 7, "domainColor": "#808080", "tickColor": "#808080"}}}},
      {"data": {"name": "fa_sim"}, "mark": {"type": "line", "color": "#000", "strokeWidth": 1.2},
       "encoding": {"x": {"field": "t", "type": "quantitative"}, "y": {"field": "r", "type": "quantitative"}}},
      {"data": {"values": [{}]}, "mark": {"type": "rule", "color": "#707070", "strokeDash": [7, 5], "strokeWidth": 1.3}, "encoding": {"y": {"datum": 50}}},
      {"data": {"values": [{}]}, "mark": {"type": "rule", "color": "#707070", "strokeDash": [7, 5], "strokeWidth": 1.3}, "encoding": {"x": {"datum": 0}}},
      {"data": {"values": [{}]}, "mark": {"type": "rule", "color": "#000", "strokeWidth": 6}, "encoding": {"x": {"datum": -2.889}, "x2": {"datum": -2.639}, "y": {"datum": 78.3}}},
      {"data": {"values": [{}]}, "mark": {"type": "text", "align": "left", "baseline": "middle", "fontSize": 20}, "encoding": {"x": {"datum": -2.606}, "y": {"datum": 78.2}, "text": {"value": "FA, N:2048"}}},
      {"data": {"values": [{}]}, "mark": {"type": "point", "shape": "M0,-1L0.62,1L-0.62,1Z", "filled": true, "color": "#000", "size": 676, "opacity": 1}, "encoding": {"x": {"datum": -0.7715}, "y": {"datum": 48.4}}},
      {"data": {"values": [{}]}, "mark": {"type": "text", "align": "center", "baseline": "middle", "fontSize": 17}, "encoding": {"x": {"datum": -1.03}, "y": {"datum": 53.0}, "text": {"value": "-0.7715"}}}
    ]
  },
  {
    "width": 617, "height": 343,
    "title": {"text": "Correct rejections", "fontSize": 24, "offset": -7},
    "layer": [
      {"data": {"name": "cr_sim"}, "transform": [{"filter": "datum.s == 'H'"}], "mark": {"type": "line", "color": "#ff8c8c", "opacity": 0.45, "strokeWidth": 9, "strokeJoin": "round"},
       "encoding": {"x": {"field": "t", "type": "quantitative", "scale": {"domain": [-3, 0.1], "nice": false, "zero": false},
                          "axis": {"title": "Time from stimuls end (s)", "values": [-3, -2.5, -2, -1.5, -1, -0.5, 0], "labelExpr": "''+datum.value", "labelFontSize": 22, "titleFontSize": 24, "tickSize": 5, "labelPadding": 12, "titlePadding": 10, "domainColor": "#808080", "tickColor": "#808080"}},
                    "y": {"field": "r", "type": "quantitative", "scale": {"domain": [35, 65], "nice": false, "zero": false},
                          "axis": {"title": "Click rate (Hz)", "values": [35, 40, 45, 50, 55, 60, 65], "labelExpr": "''+datum.value", "labelFontSize": 22, "titleFontSize": 24, "tickSize": 5, "labelPadding": 9, "titlePadding": 7, "domainColor": "#808080", "tickColor": "#808080"}}}},
      {"data": {"name": "cr_sim"}, "transform": [{"filter": "datum.s == 'L'"}], "mark": {"type": "line", "color": "#8c8cff", "opacity": 0.45, "strokeWidth": 9, "strokeJoin": "round"},
       "encoding": {"x": {"field": "t", "type": "quantitative"}, "y": {"field": "r", "type": "quantitative"}}},
      {"data": {"name": "cr_sim"}, "transform": [{"filter": "datum.s == 'H'"}], "mark": {"type": "line", "color": "#ff0000", "strokeWidth": 1.2},
       "encoding": {"x": {"field": "t", "type": "quantitative"}, "y": {"field": "r", "type": "quantitative"}}},
      {"data": {"name": "cr_sim"}, "transform": [{"filter": "datum.s == 'L'"}], "mark": {"type": "line", "color": "#0000ff", "strokeWidth": 1.2},
       "encoding": {"x": {"field": "t", "type": "quantitative"}, "y": {"field": "r", "type": "quantitative"}}},
      {"data": {"values": [{}]}, "mark": {"type": "rule", "color": "#707070", "strokeDash": [7, 5], "strokeWidth": 1.3}, "encoding": {"x": {"datum": 0}}},
      {"data": {"values": [{}]}, "mark": {"type": "rule", "color": "#ff0000", "strokeWidth": 6}, "encoding": {"x": {"datum": -2.88}, "x2": {"datum": -2.632}, "y": {"datum": 60.0}}},
      {"data": {"values": [{}]}, "mark": {"type": "rule", "color": "#0000ff", "strokeWidth": 6}, "encoding": {"x": {"datum": -2.88}, "x2": {"datum": -2.632}, "y": {"datum": 57.8}}},
      {"data": {"values": [{}]}, "mark": {"type": "text", "align": "left", "baseline": "middle", "fontSize": 20}, "encoding": {"x": {"datum": -2.602}, "y": {"datum": 59.9}, "text": {"value": "High conf. N:2210"}}},
      {"data": {"values": [{}]}, "mark": {"type": "text", "align": "left", "baseline": "middle", "fontSize": 20}, "encoding": {"x": {"datum": -2.602}, "y": {"datum": 57.7}, "text": {"value": "Low conf. N:2362"}}},
      {"data": {"values": [{}]}, "mark": {"type": "point", "shape": "M0,-1L0.62,1L-0.62,1Z", "filled": true, "color": "#000", "size": 676, "opacity": 1}, "encoding": {"x": {"datum": -0.68726}, "y": {"datum": 47.3}}},
      {"data": {"values": [{}]}, "mark": {"type": "text", "align": "center", "baseline": "middle", "fontSize": 17}, "encoding": {"x": {"datum": -0.646}, "y": {"datum": 41.9}, "text": {"value": "-0.68726"}}}
    ]
  }
]
}
